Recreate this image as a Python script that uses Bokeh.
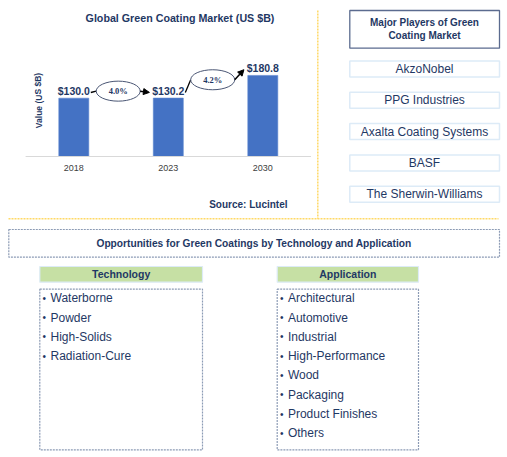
from bokeh.plotting import figure
from bokeh.models import Range1d, Arrow, NormalHead
from bokeh.core.properties import value
from bokeh.embed import file_html
from bokeh.resources import INLINE

# ---------------- data ----------------
years = ["2018", "2023", "2030"]
market = [130.0, 130.2, 180.8]
cagr = ["4.0%", "4.2%"]
players = ["AkzoNobel", "PPG Industries", "Axalta Coating Systems", "BASF",
           "The Sherwin-Williams"]
technology = ["Waterborne", "Powder", "High-Solids", "Radiation-Cure"]
application = ["Architectural", "Automotive", "Industrial", "High-Performance",
               "Wood", "Packaging", "Product Finishes", "Others"]

# ---------------- styles ----------------
NAVY = "#1F3864"
SANS = value("Liberation Sans")
SERIF = value("Liberation Serif")
BAR = "#4472C4"
GOLD = "#FFD966"
DOT = "#8C9BB5"
LIGHTBLUE = "#DDEBF7"
GREEN = "#C6E0A4"

W, H = 507, 457
# page layout in pixel coordinates (y downward)
p = figure(width=W, height=H, x_range=Range1d(0, W), y_range=Range1d(H, 0),
           output_backend="svg", toolbar_location=None,
           x_axis_location=None, y_axis_location=None,
           min_border=0, outline_line_color=None, background_fill_color="white")
p.grid.visible = False

# chart scales (category index and market value)
STEP = 94.5        # px between categories
X0 = 73.3          # px of first category centre
PXV = 0.4485       # px per US $B
BASE = 156.0       # px of zero line
p.extra_x_ranges = {"idx": Range1d((0 - X0) / STEP, (W - X0) / STEP)}
p.extra_y_ranges = {"val": Range1d(-(H - BASE) / PXV, (BASE - 0) / PXV)}
R = dict(x_range_name="idx", y_range_name="val")

idx = list(range(len(years)))
p.vbar(x=idx, top=market, bottom=0, width=30 / STEP, fill_color=BAR,
       line_color="#5A85CF", line_width=0.6, **R)
p.segment(x0=[-0.51], y0=[0], x1=[len(years) - 1 + 0.51], y1=[0],
          line_color="#D9D9D9", line_width=1.2, **R)
p.text(x=idx, y=[0] * len(years), text=years, y_offset=11, text_align="center",
       text_baseline="middle", text_font=SANS, text_font_size="9px",
       text_color="#404040", **R)
p.text(x=idx, y=market, text=["$%.1f" % v for v in market], y_offset=-1,
       text_align="center", text_baseline="bottom", text_font=SANS,
       text_font_size="10.5px", text_font_style="bold", text_color=NAVY, **R)

# CAGR bubbles + arrows
LBL = 5.7 / PXV
cx = [i + 0.47 for i in range(len(cagr))]
cy = [(market[i] + market[i + 1]) / 2 + 7 / PXV for i in range(len(cagr))]
half = 22 / STEP
p.segment(x0=[i + 0.18 for i in range(len(cagr))],
          y0=[market[i] + LBL for i in range(len(cagr))],
          x1=[c - half for c in cx], y1=cy, line_color="black", line_width=1.3, **R)
p.ellipse(x=cx, y=cy, width=44, height=20, width_units="screen",
          height_units="screen", fill_color="white", line_color="#4A5674",
          line_width=1, **R)
p.text(x=cx, y=cy, text=cagr, text_align="center", text_baseline="middle",
       text_font=SERIF, text_font_size="8.5px", text_font_style="bold",
       text_color=NAVY, **R)
for i in range(len(cagr)):
    p.add_layout(Arrow(x_start=cx[i] + half, y_start=cy[i],
                       x_end=i + 1 - 0.2, y_end=market[i + 1] + LBL,
                       line_color="black", line_width=1.5,
                       end=NormalHead(size=6, fill_color="black", line_color="black"),
                       **R))

# chart texts
p.text(x=[179.5], y=[17.7], text=["Global Green Coating Market (US $B)"],
       text_align="center", text_baseline="middle", text_font=SANS,
       text_font_size="10.7px", text_font_style="bold", text_color=NAVY)
p.text(x=[287], y=[204], text=["Source: Lucintel"], text_align="right",
       text_baseline="middle", text_font=SANS, text_font_size="10px",
       text_font_style="bold", text_color=NAVY)
p.text(x=[38], y=[100], text=["Value (US $B)"], angle=1.5708,
       text_align="center", text_baseline="middle", text_font=SANS,
       text_font_size="8.5px", text_font_style="bold", text_color=NAVY)

# dotted separators
p.segment(x0=[317.3, 8], y0=[10, 218.3], x1=[317.3, 498], y1=[218.3, 218.3],
          line_color=GOLD, line_width=1.5, line_dash="2 1")

# major players
p.quad(left=[349.3], right=[499], top=[10], bottom=[47.7], fill_color="white",
       line_color="#5B6B8F", line_width=1.3)
p.text(x=[424, 424], y=[22, 35], text=["Major Players of Green", "Coating Market"],
       text_align="center", text_baseline="middle", text_font=SANS,
       text_font_size="10px", text_font_style="bold", text_color=NAVY)
py = [68.5 + 31.3 * i for i in range(len(players))]
p.quad(left=[349.3] * len(players), right=[499] * len(players),
       top=[y - 8 for y in py], bottom=[y + 8 for y in py], fill_color="white",
       line_color=LIGHTBLUE, line_width=1.5)
p.text(x=[424] * len(players), y=py, text=players, text_align="center",
       text_baseline="middle", text_font=SANS, text_font_size="12px",
       text_color=NAVY)

# opportunities
p.quad(left=[8.3], right=[499], top=[229], bottom=[256.7], fill_color=None,
       line_color=DOT, line_width=1.2, line_dash="2 1")
p.text(x=[253.5], y=[243.3],
       text=["Opportunities for Green Coatings by Technology and Application"],
       text_align="center", text_baseline="middle", text_font=SANS,
       text_font_size="10.2px", text_font_style="bold", text_color=NAVY)

cols = [(39.3, 202.0, "Technology", technology),
        (276.7, 418.0, "Application", application)]
for left, right, head, items in cols:
    p.quad(left=[left], right=[right], top=[266], bottom=[281.7],
           fill_color=GREEN, line_color=LIGHTBLUE, line_width=1.2)
    p.text(x=[(left + right) / 2], y=[273.8], text=[head], text_align="center",
           text_baseline="middle", text_font=SANS, text_font_size="10.5px",
           text_font_style="bold", text_color=NAVY)
    p.quad(left=[left], right=[right], top=[288.7], bottom=[449.3],
           fill_color=None, line_color=DOT, line_width=1.2, line_dash="2 1")
    iy = [297.7 + 19.3 * k for k in range(len(items))]
    p.text(x=[left + 2.7] * len(items), y=iy, text=["\u2022"] * len(items),
           text_align="left", text_baseline="middle", text_font=SANS,
           text_font_size="10px", text_color=NAVY)
    p.text(x=[left + 10.7] * len(items), y=iy, text=items, text_align="left",
           text_baseline="middle", text_font=SANS, text_font_size="12px",
           text_color=NAVY)

open("out.html", "w").write(file_html(p, INLINE))
